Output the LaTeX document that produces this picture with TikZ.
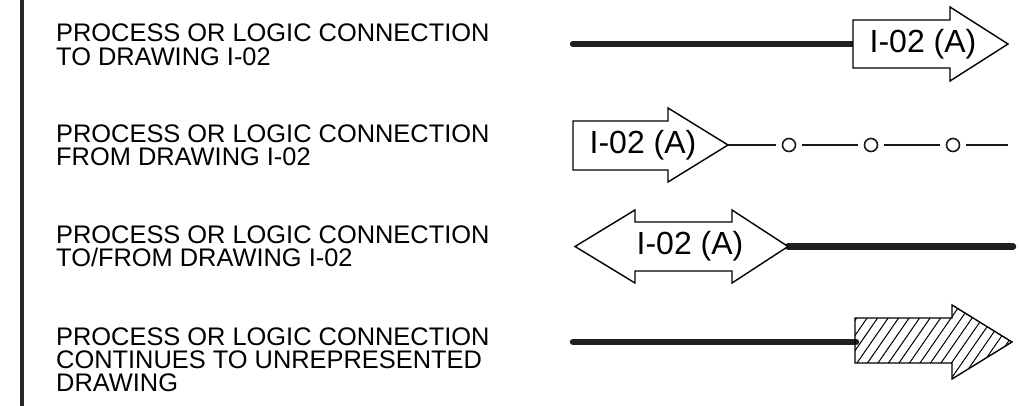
\documentclass[tikz,border=0pt]{standalone}
\usepackage{fontspec}
\setmainfont{Liberation Sans}
\newcommand{\twolines}[2]{\vtop{\hbox{#1}\hbox{#2}}}
\newcommand{\threelines}[3]{\vtop{\hbox{#1}\hbox{#2}\hbox{#3}}}
\begin{document}
\begin{tikzpicture}[x=1pt,y=-1pt,
  desc/.style={anchor=base west,inner sep=0pt,
    font=\fontsize{25.4pt}{23.4pt}\selectfont},
  tag/.style={inner sep=0pt,font=\fontsize{32pt}{32pt}\selectfont},
  heavy/.style={line width=6.5pt,line cap=round,color=black!88},
  outline/.style={draw=black,line width=1.4pt,line join=miter,fill=white},
  thin/.style={line width=1.4pt,color=black!90},
  ring/.style={circle,draw=black!90,line width=1.6pt,minimum size=13pt,inner sep=0pt}]
\useasboundingbox (0,0) rectangle (1020,406);
% left bar
\draw[line width=4pt,color=black!85] (22,0) -- (22,406);

% descriptions (anchored at the baseline of the first line)
\node[desc] (d1) at (56,41.7) {\twolines{PROCESS OR LOGIC CONNECTION}{TO DRAWING I-02}};
\node[desc] (d2) at (56,142.3) {\twolines{PROCESS OR LOGIC CONNECTION}{FROM DRAWING I-02}};
\node[desc] (d3) at (56,243.3) {\twolines{PROCESS OR LOGIC CONNECTION}{TO/FROM DRAWING I-02}};
\node[desc] (d4) at (56,345) {\threelines{PROCESS OR LOGIC CONNECTION}{CONTINUES TO UNREPRESENTED}{DRAWING}};

% row 1
\coordinate (s1) at (573,44);
\coordinate (a1) at (855,44);
\draw[heavy] (s1) -- (a1);
\draw[outline] (853,20) -- (950,20) -- (950,7) -- (1008,44) -- (950,81) -- (950,68) -- (853,68) -- cycle;
\node[tag] (t1) at (923,44) {I-02 (A)};

% row 2
\draw[outline] (573,121) -- (668,121) -- (668,108) -- (728,145) -- (668,182) -- (668,170) -- (573,170) -- cycle;
\node[tag] (t2) at (643,145) {I-02 (A)};
\coordinate (p0) at (728,145);
\node[ring] (c1) at (789,145) {};
\node[ring] (c2) at (871,145) {};
\node[ring] (c3) at (953,145) {};
\coordinate (p4) at (1008,145);
\draw[thin] (p0) -- ([xshift=-6pt]c1.west);
\draw[thin] ([xshift=6pt]c1.east) -- ([xshift=-6pt]c2.west);
\draw[thin] ([xshift=6pt]c2.east) -- ([xshift=-6pt]c3.west);
\draw[thin] ([xshift=6pt]c3.east) -- (p4);

% row 3
\coordinate (a3) at (788,246.5);
\coordinate (e3) at (1013,246.5);
\draw[heavy] (a3) -- (e3);
\draw[outline] (575,246.5) -- (635,210) -- (635,222) -- (732,222) -- (732,210) -- (788,246.5) -- (732,283) -- (732,271) -- (635,271) -- (635,283) -- cycle;
\node[tag] (t3) at (690,246.5) {I-02 (A)};

% row 4
\coordinate (s4) at (573,342);
\coordinate (a4) at (856,342);
\draw[heavy] (s4) -- (a4);
\begin{scope}
  \clip (855,318) -- (952,318) -- (952,305) -- (1012,342) -- (952,379) -- (952,363) -- (855,363) -- cycle;
  \foreach \k in {-8,...,16} {
    \draw[line width=1pt] ({855+\k*10.5},381) -- ({855+\k*10.5+54},303);
  }
\end{scope}
\draw[draw=black,line width=1.4pt] (855,318) -- (952,318) -- (952,305) -- (1012,342) -- (952,379) -- (952,363) -- (855,363) -- cycle;
\end{tikzpicture}
\end{document}
